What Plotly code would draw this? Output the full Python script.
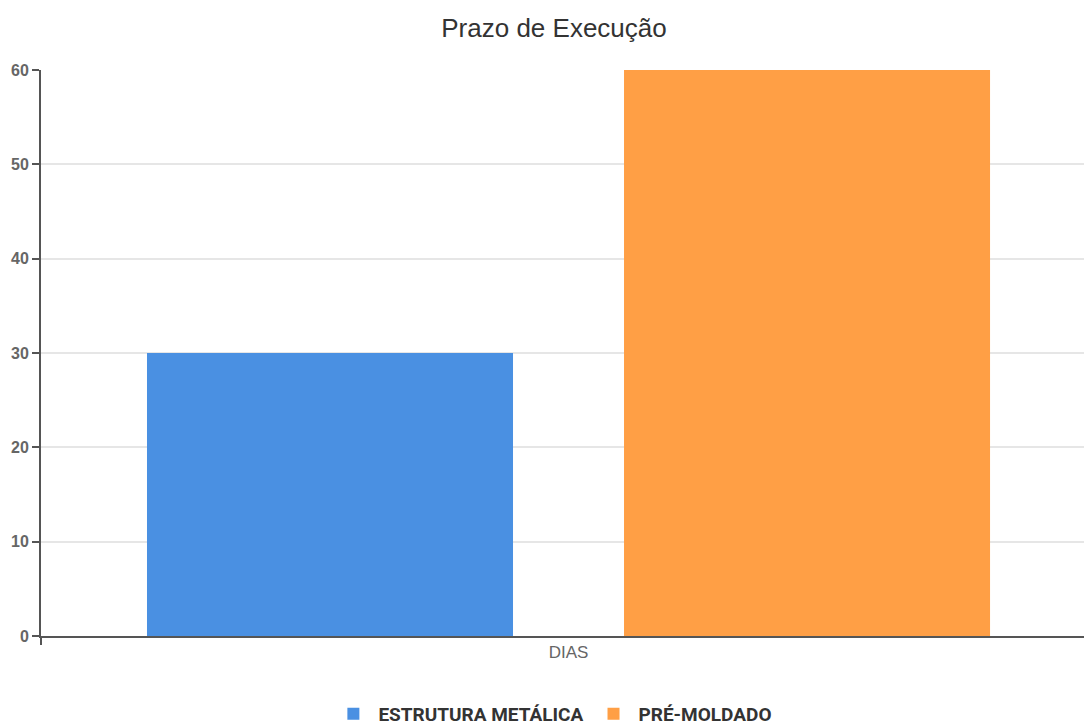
import plotly.graph_objects as go

categories = ["DIAS"]
series_names = ["ESTRUTURA METÁLICA", "PRÉ-MOLDADO"]
estrutura_metalica = [30]
pre_moldado = [60]
y_ticks = [0, 10, 20, 30, 40, 50, 60]

colors = ["#4A90E2", "#FF9F45"]

fig = go.Figure()
fig.add_trace(go.Bar(x=categories, y=estrutura_metalica, name=series_names[0],
                     marker=dict(color=colors[0], line=dict(width=0))))
fig.add_trace(go.Bar(x=categories, y=pre_moldado, name=series_names[1],
                     marker=dict(color=colors[1], line=dict(width=0))))

font_family = "Liberation Sans, Arial, sans-serif"

fig.update_layout(
    width=1084, height=727,
    margin=dict(l=41, r=0, t=70, b=91, autoexpand=False),
    paper_bgcolor="white", plot_bgcolor="white",
    barmode="group", bargap=0.0957, bargroupgap=0.2327,
    title=dict(text="Prazo de Execução", x=554 / 1084, xanchor="center",
               y=1 - 28 / 727, yanchor="middle",
               font=dict(family=font_family, size=26, color="#333333")),
    font=dict(family=font_family),
    legend=dict(orientation="h", x=532 / 1084, xanchor="center",
                yref="container", y=(727 - 714) / 727, yanchor="middle",
                font=dict(family="Roboto, sans-serif", size=19, color="#333333", weight="bold"),
                itemwidth=40, traceorder="normal"),
    showlegend=True,
)

fig.update_xaxes(
    type="category", range=[-0.5, 0.4886],
    showline=True, linecolor="#555555", linewidth=2,
    ticks="outside", tickson="boundaries", ticklen=7, tickcolor="#555555", tickwidth=2,
    tickfont=dict(family=font_family, size=17, color="#666666"),
    showgrid=False, zeroline=False,
)
fig.update_yaxes(
    range=[0, 60], tickvals=y_ticks,
    showline=True, linecolor="#555555", linewidth=2,
    ticks="outside", ticklen=7, tickcolor="#555555", tickwidth=2,
    tickfont=dict(family=font_family, size=16, color="#666666", weight="bold"),
    showgrid=True, gridcolor="#e6e6e6", gridwidth=1.5,
    zeroline=False,
)

fig.write_html("out.html")
